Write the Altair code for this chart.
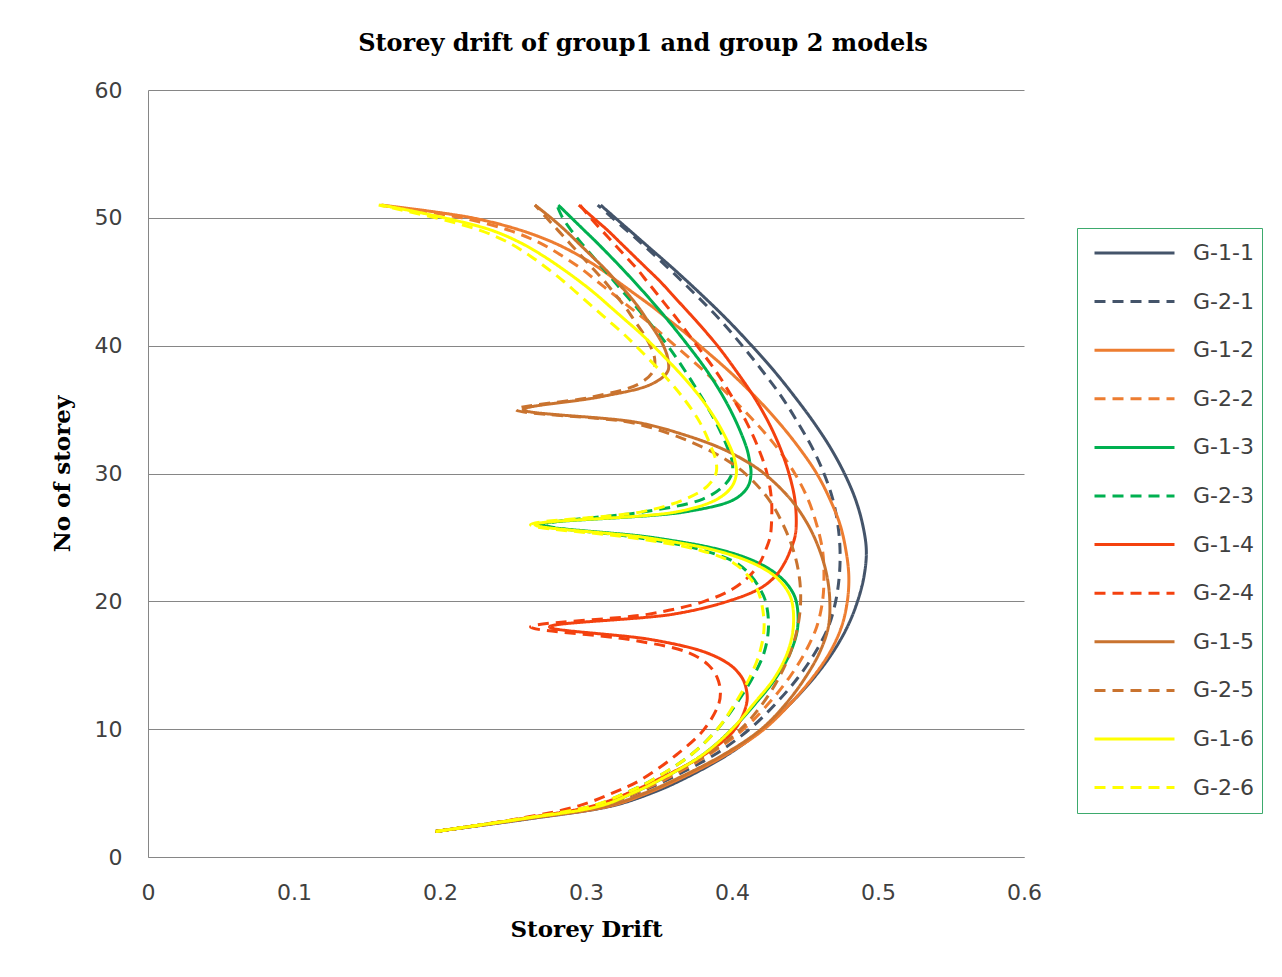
import altair as alt
import pandas as pd

SERIES = ["G-1-1", "G-2-1", "G-1-2", "G-2-2", "G-1-3", "G-2-3",
          "G-1-4", "G-2-4", "G-1-5", "G-2-5", "G-1-6", "G-2-6"]
COLORS = ["#44546A", "#44546A", "#ED7D31", "#ED7D31", "#00B050", "#00B050",
          "#F4410F", "#F4410F", "#C9732F", "#C9732F", "#FFFF00", "#FFFF00"]
DASHES = [[1, 0], [11, 7]] * 6

X_TICKS = [0, 0.1, 0.2, 0.3, 0.4, 0.5, 0.6]
Y_TICKS = [0, 10, 20, 30, 40, 50, 60]

# storey levels read for each series
ST_1 = [2, 3, 4, 5, 6, 8, 10, 12, 14, 16, 18, 20, 22, 24, 26, 28, 30, 32, 34, 36,
        38, 40, 42, 44, 46, 48, 50, 51]
ST_2 = [2, 3, 4, 5, 6, 8, 10, 12, 14, 16, 18, 20, 22, 24, 26, 28, 30, 32, 34, 36,
        38, 40, 41, 42, 43, 44, 45, 46, 47, 48, 49, 50, 51]
ST_5 = [2, 3, 4, 5, 6, 8, 10, 12, 14, 16, 18, 20, 22, 24, 26, 28, 30, 31, 32, 33,
        34, 35, 36, 37, 38, 39, 40, 41, 42, 43, 44, 45, 46, 47, 48, 49, 50, 51]
ST_3 = [2, 3, 4, 5, 6, 8, 10, 12, 14, 16, 18, 20, 21, 22, 23, 24, 25, 26, 27, 28,
        29, 30, 31, 32, 34, 36, 38, 40, 42, 44, 46, 48, 49, 50, 51]
ST_6 = [2, 3, 4, 5, 6, 8, 10, 12, 14, 16, 18, 20, 21, 22, 23, 24, 25, 26, 27, 28,
        29, 30, 31, 32, 34, 36, 38, 40, 41, 42, 43, 44, 45, 46, 47, 48, 49, 50, 51]
ST_4 = [2, 3, 4, 5, 6, 8, 10, 12, 13, 14, 15, 16, 17, 18, 19, 20, 21, 22, 23, 24,
        25, 26, 28, 30, 32, 34, 36, 38, 40, 42, 43, 44, 45, 46, 47, 48, 49, 50, 51]

G_1_1 = [.197, .262, .318, .345, .365, .397, .421, .44, .456, .469, .479, .486, .4905,
         .492, .4895, .4845, .477, .4675, .456, .443, .429, .4135, .397, .379, .36, .34,
         .32, .31]
G_2_1 = [.197, .258, .31, .335, .355, .388, .412, .43, .445, .457, .466, .471, .4735, .474,
         .4725, .469, .463, .455, .445, .434, .421, .407, .392, .375, .357, .338, .318, .308]
G_1_2 = [.197, .26, .317, .342, .362, .396, .422, .44, .455, .467, .475, .479, .48, .478,
         .474, .467, .458, .446, .432, .416, .398, .378, .368, .357, .346, .334, .322, .31,
         .296, .279, .256, .222, .16]
G_2_2 = [.197, .258, .311, .334, .353, .384, .408, .425, .439, .45, .458, .462, .463, .462,
         .458, .452, .443, .431, .416, .399, .381, .361, .351, .341, .33, .319, .308, .297,
         .284, .269, .248, .215, .158]
G_1_3 = [.197, .257, .31, .332, .35, .38, .4, .416, .43, .44, .445, .444, .44, .432,
         .418, .393, .345, .268, .368, .402, .411, .413, .412, .41, .403, .394, .383, .37,
         .356, .341, .325, .308, .299, .29, .281]
G_2_3 = [.197, .256, .305, .327, .345, .372, .39, .403, .414, .422, .425, .423, .419, .413,
         .403, .38, .335, .272, .34, .38, .394, .4, .4, .397, .389, .379, .368, .356,
         .342, .327, .312, .297, .29, .284, .28]
G_1_4 = [.197, .256, .305, .329, .348, .381, .402, .41, .41, .407, .399, .382, .345, .275,
         .36, .397, .419, .43, .436, .44, .443, .444, .443, .439, .433, .425, .415, .403,
         .39, .375, .367, .359, .351, .342, .333, .324, .315, .305, .295]
G_2_4 = [.197, .254, .295, .318, .337, .362, .381, .391, .392, .39, .384, .37, .33, .262,
         .343, .381, .401, .412, .419, .423, .426, .427, .427, .424, .418, .41, .4, .389,
         .376, .363, .356, .349, .342, .335, .327, .319, .311, .303, .296]
G_1_5 = [.197, .259, .315, .34, .36, .394, .42, .437, .45, .46, .466, .467, .465, .46,
         .452, .44, .422, .409, .392, .368, .335, .257, .31, .345, .356, .356, .353, .348,
         .342, .336, .329, .321, .313, .304, .295, .286, .276, .265]
G_2_5 = [.197, .257, .309, .332, .351, .383, .406, .421, .432, .44, .445, .447, .446, .442,
         .435, .425, .409, .397, .381, .36, .33, .252, .305, .336, .346, .347, .344, .339,
         .333, .327, .32, .313, .305, .297, .289, .281, .273, .265]
G_1_6 = [.197, .257, .31, .332, .35, .38, .4, .415, .429, .438, .442, .441, .437, .429,
         .414, .388, .34, .265, .362, .39, .4, .403, .402, .399, .39, .378, .363, .346,
         .337, .327, .317, .307, .296, .284, .271, .256, .236, .203, .16]
G_2_6 = [.197, .256, .304, .327, .345, .372, .39, .402, .412, .419, .422, .42, .417, .411,
         .401, .378, .33, .262, .338, .368, .383, .389, .389, .386, .378, .366, .351, .334,
         .325, .315, .305, .295, .285, .274, .262, .248, .228, .197, .158]

PAIRS = [(ST_1, G_1_1), (ST_1, G_2_1), (ST_2, G_1_2), (ST_2, G_2_2),
         (ST_3, G_1_3), (ST_3, G_2_3), (ST_4, G_1_4), (ST_4, G_2_4),
         (ST_5, G_1_5), (ST_5, G_2_5), (ST_6, G_1_6), (ST_6, G_2_6)]

rows = []
for k, (name, (st, dr)) in enumerate(zip(SERIES, PAIRS)):
    for s, d in zip(st, dr):
        rows.append({"series": name, "k": k, "storey": s, "drift": d})
df = pd.DataFrame(rows)

legend = alt.Legend(
    title=None, orient="none", legendX=929, legendY=138,
    symbolType="stroke", symbolSize=6400, symbolStrokeWidth=3,
    clipHeight=34, rowPadding=14.6, padding=8, symbolOffset=8, labelOffset=17,
    labelFont="DejaVu Sans", labelFontSize=22, labelColor="#404040",
    labelExpr="datum.label + '\u00a0\u00a0'",
    strokeColor="#3DAA6D", fillColor="white",
)

lines = alt.Chart(df).mark_line(interpolate="catmull-rom", strokeWidth=3).encode(
    x=alt.X("drift:Q", scale=alt.Scale(domain=[0, 0.6], nice=False),
            axis=alt.Axis(values=X_TICKS, format="~g", grid=False, ticks=False,
                          labelFlush=False, title="Storey Drift",
                          labelPadding=25, titlePadding=15)),
    y=alt.Y("storey:Q", scale=alt.Scale(domain=[0, 60], nice=False),
            axis=alt.Axis(values=Y_TICKS, grid=True, ticks=False, labelFlush=False,
                          title="No of storey", labelPadding=26, titlePadding=20)),
    color=alt.Color("series:N", scale=alt.Scale(domain=SERIES, range=COLORS), legend=legend),
    strokeDash=alt.StrokeDash("series:N", scale=alt.Scale(domain=SERIES, range=DASHES), legend=legend),
    detail="k:O",
    order="storey:Q",
)

chart = lines.properties(
    width=876, height=767,
    background="white",
    autosize=alt.AutoSizeParams(type="none"),
    padding={"left": 140, "top": 82, "right": 250, "bottom": 100},
    title=alt.Title("Storey drift of group1 and group 2 models", fontSize=24,
                    font="DejaVu Serif", fontWeight="bold", color="#000000",
                    anchor="middle", dx=57, offset=23),
).configure_axis(
    domainColor="#868686", gridColor="#868686", gridWidth=1, domainWidth=1,
    labelFont="DejaVu Sans", labelFontSize=22, labelColor="#404040",
    titleFont="DejaVu Serif", titleFontSize=23, titleFontWeight="bold", titleColor="#000000",
).configure_view(stroke=None)

chart.save("out.html", embed_options={"renderer": "svg", "actions": False})
